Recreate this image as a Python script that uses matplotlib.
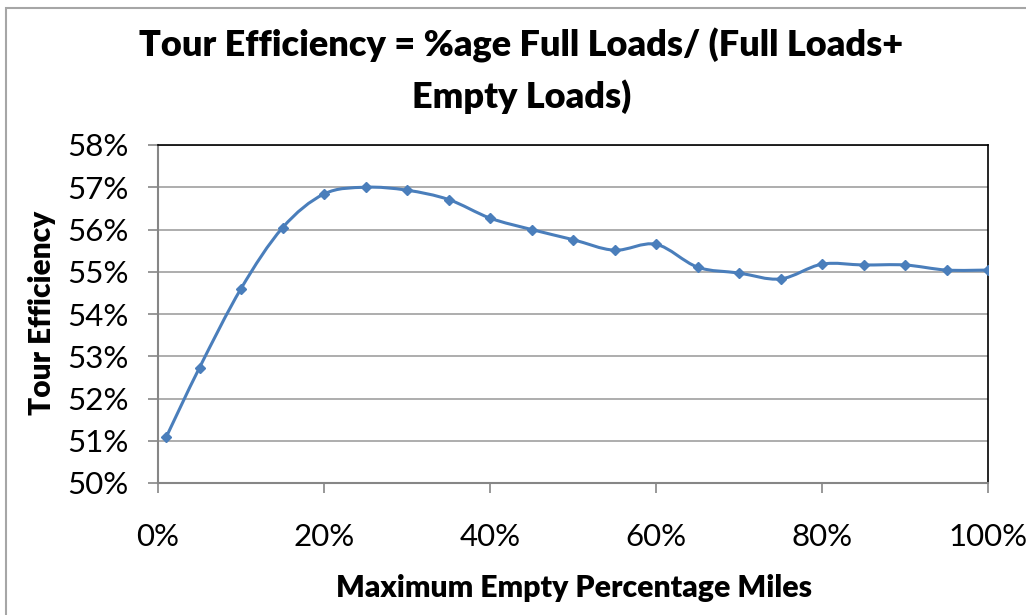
import matplotlib.pyplot as plt
import matplotlib.patches as patches
from matplotlib.path import Path
from matplotlib.ticker import FuncFormatter
import numpy as np

plt.rcParams['font.family'] = ['Lato', 'DejaVu Sans']

# data
max_empty_pct = [1, 5, 10, 15, 20, 25, 30, 35, 40, 45, 50, 55, 60, 65, 70, 75, 80, 85, 90, 95, 100]
tour_eff = [51.09, 52.73, 54.60, 56.04, 56.84, 57.00, 56.93, 56.71, 56.27, 56.00, 55.76,
            55.51, 55.65, 55.11, 54.97, 54.83, 55.18, 55.16, 55.16, 55.04, 55.04]

line_col = '#4a7ebb'

fig = plt.figure(figsize=(10.26, 6.15), dpi=100)
ax = fig.add_axes([158 / 1026, 1 - 483 / 615, 830 / 1026, 338 / 615])

# chart area border (cut off at right/bottom like the screenshot)
fig.patches.append(patches.Rectangle((6 / 1026, -0.1), 1.2, 1 - 8 / 615 + 0.1,
                                     transform=fig.transFigure, fill=False,
                                     edgecolor='#a6a6a6', linewidth=1.5))

# smoothed line, cubic bezier through the points (excel style)
x = np.array(max_empty_pct, dtype=float)
y = np.array(tour_eff, dtype=float)
verts = [(x[0], y[0])]
codes = [Path.MOVETO]
n = len(x)
for i in range(n - 1):
    x0, y0 = (x[i - 1], y[i - 1]) if i > 0 else (x[i], y[i])
    x3, y3 = (x[i + 2], y[i + 2]) if i + 2 < n else (x[i + 1], y[i + 1])
    c1 = (x[i] + (x[i + 1] - x0) / 6, y[i] + (y[i + 1] - y0) / 6)
    c2 = (x[i + 1] - (x3 - x[i]) / 6, y[i + 1] - (y3 - y[i]) / 6)
    verts += [c1, c2, (x[i + 1], y[i + 1])]
    codes += [Path.CURVE4] * 3
ax.add_patch(patches.PathPatch(Path(verts, codes), facecolor='none',
                               edgecolor=line_col, linewidth=2.2, zorder=3))
ax.plot(x, y, linestyle='none', marker='D', markersize=5.5, color=line_col, zorder=4)

ax.set_xlim(0, 100)
ax.set_ylim(50, 58)
ax.set_xticks(np.arange(0, 101, 20))
ax.set_yticks(np.arange(50, 58.1, 1))
ax.xaxis.set_major_formatter(FuncFormatter(lambda v, p: '%d%%' % v))
ax.yaxis.set_major_formatter(FuncFormatter(lambda v, p: '%d%%' % v))
ax.grid(axis='y', color='#a0a0a0', linewidth=1.2)
ax.set_axisbelow(True)

for s in ['top', 'right']:
    ax.spines[s].set_color('#000000')
    ax.spines[s].set_linewidth(1.2)
for s in ['left', 'bottom']:
    ax.spines[s].set_color('#868686')
    ax.spines[s].set_linewidth(1.5)

ax.tick_params(axis='both', direction='out', length=7, width=1.2, color='#868686',
               labelsize=22.5, colors='#868686', labelcolor='black')
ax.tick_params(axis='y', pad=14)
ax.tick_params(axis='x', pad=22)

fig.text(0.508, 1 - 45 / 615, 'Tour Efficiency = %age Full Loads/ (Full Loads+',
         ha='center', va='center', fontsize=26, fontweight='heavy')
fig.text(0.508, 1 - 97 / 615, 'Empty Loads)', ha='center', va='center',
         fontsize=26, fontweight='heavy')
fig.text(574 / 1026, 1 - 588 / 615, 'Maximum Empty Percentage Miles',
         ha='center', va='center', fontsize=21.7, fontweight='heavy')
fig.text(42 / 1026, 1 - 313 / 615, 'Tour Efficiency', ha='center', va='center',
         rotation=90, fontsize=21.5, fontweight='heavy')

fig.savefig('out.png', dpi=100)
